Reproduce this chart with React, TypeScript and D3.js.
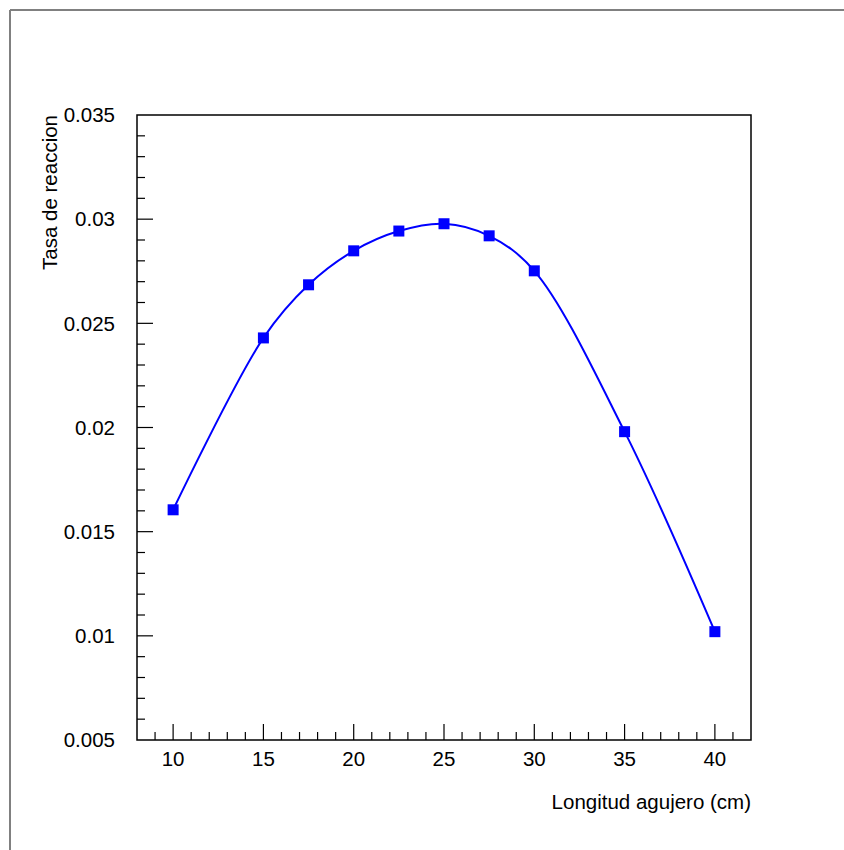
import React, { useEffect, useRef } from 'react';
import * as d3 from 'd3';

// hole length (cm)
const longitudes = [10, 15, 17.5, 20, 22.5, 25, 27.5, 30, 35, 40];
// reaction rate
const tasas = [0.01605, 0.0243, 0.02685, 0.02848, 0.02943, 0.02978, 0.0292, 0.02752, 0.0198, 0.0102];

const xTicks = [10, 15, 20, 25, 30, 35, 40];
const yTicks = [0.005, 0.01, 0.015, 0.02, 0.025, 0.03, 0.035];

const App = () => {
  const svgRef = useRef<SVGSVGElement>(null);

  useEffect(() => {
    const svg = d3.select(svgRef.current);
    svg.selectAll('*').remove();

    const width = 844;
    const height = 850;
    const left = 137;
    const right = 751;
    const top = 115;
    const bottom = 740;
    const font = 'Liberation Sans, Arial, Helvetica, sans-serif';
    const fs = 20.5;

    svg.append('rect').attr('width', width).attr('height', height).attr('fill', 'white');

    // canvas frame (only top/left shaded)
    svg.append('line').attr('x1', 10).attr('x2', width).attr('y1', 10).attr('y2', 10)
      .attr('stroke', '#808080').attr('stroke-width', 2);
    svg.append('line').attr('x1', 10).attr('x2', 10).attr('y1', 10).attr('y2', height)
      .attr('stroke', '#808080').attr('stroke-width', 2);

    const x = d3.scaleLinear().domain([8, 42]).range([left, right]);
    const y = d3.scaleLinear().domain([0.005, 0.035]).range([bottom, top]);

    // plot box
    svg.append('rect')
      .attr('x', left).attr('y', top)
      .attr('width', right - left).attr('height', bottom - top)
      .attr('fill', 'none').attr('stroke', 'black').attr('stroke-width', 1.5);

    // x axis ticks
    const xMinor = d3.range(9, 42, 1);
    svg.append('g').selectAll('line').data(xMinor).join('line')
      .attr('x1', (d) => x(d)).attr('x2', (d) => x(d))
      .attr('y1', bottom).attr('y2', (d) => (d % 5 === 0 ? bottom - 16 : bottom - 8))
      .attr('stroke', 'black').attr('stroke-width', 1.2);

    svg.append('g').selectAll('text').data(xTicks).join('text')
      .attr('x', (d) => x(d)).attr('y', 766)
      .attr('text-anchor', 'middle')
      .attr('font-family', font).attr('font-size', fs)
      .text((d) => d);

    // y axis ticks
    const yMinor = d3.range(6, 35, 1).map((d) => d / 1000);
    svg.append('g').selectAll('line').data(yMinor).join('line')
      .attr('x1', left).attr('x2', (d) => (Math.round(d * 1000) % 5 === 0 ? left + 16 : left + 8))
      .attr('y1', (d) => y(d)).attr('y2', (d) => y(d))
      .attr('stroke', 'black').attr('stroke-width', 1.2);

    svg.append('g').selectAll('text').data(yTicks).join('text')
      .attr('x', 115).attr('y', (d) => y(d))
      .attr('dy', '0.35em')
      .attr('text-anchor', 'end')
      .attr('font-family', font).attr('font-size', fs)
      .text((d) => d3.format('')(d));

    // axis titles
    svg.append('text')
      .attr('x', right).attr('y', 809)
      .attr('text-anchor', 'end')
      .attr('font-family', font).attr('font-size', fs)
      .text('Longitud agujero (cm)');

    svg.append('text')
      .attr('transform', `translate(57, ${top}) rotate(-90)`)
      .attr('text-anchor', 'end')
      .attr('font-family', font).attr('font-size', fs)
      .text('Tasa de reaccion');

    // smooth curve through the points
    const points = longitudes.map((l, i) => [l, tasas[i]] as [number, number]);
    const line = d3.line<[number, number]>()
      .x((d) => x(d[0]))
      .y((d) => y(d[1]))
      .curve(d3.curveCatmullRom.alpha(0.5));

    svg.append('path')
      .attr('d', line(points))
      .attr('fill', 'none')
      .attr('stroke', '#0000ff')
      .attr('stroke-width', 2);

    // square markers
    const size = 11;
    svg.append('g').selectAll('rect').data(points).join('rect')
      .attr('x', (d) => x(d[0]) - size / 2)
      .attr('y', (d) => y(d[1]) - size / 2)
      .attr('width', size).attr('height', size)
      .attr('fill', '#0000ff');
  }, []);

  return (
    <svg
      ref={svgRef}
      width={844}
      height={850}
      style={{ position: 'absolute', left: 0, top: 0, display: 'block' }}
    />
  );
};

export default App;
